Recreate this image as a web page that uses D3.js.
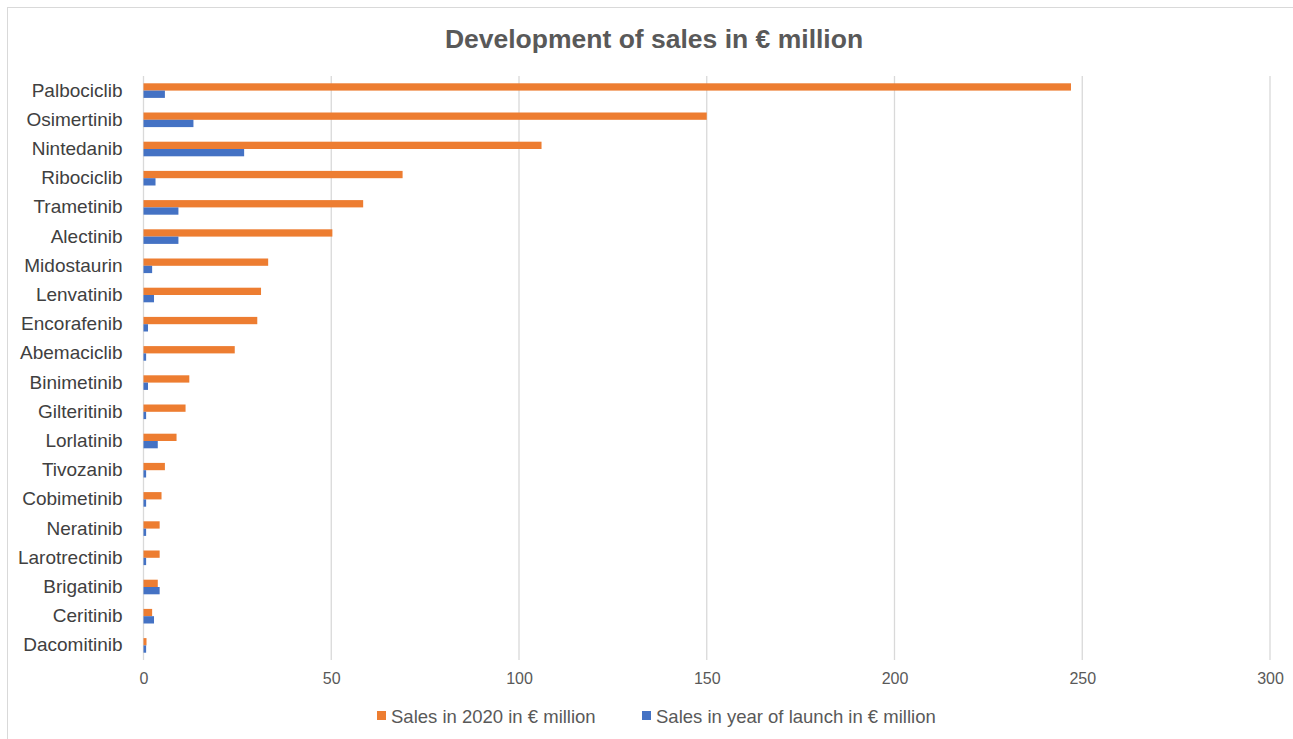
<!DOCTYPE html>
<html>
<head>
<meta charset="utf-8">
<script src="https://cdn.jsdelivr.net/npm/d3@7"></script>
<style>
  html, body { margin: 0; padding: 0; background: #fff; }
  svg { display: block; font-family: "Liberation Sans", Arial, sans-serif; }
</style>
</head>
<body>
<svg id="chart" width="1293" height="739"></svg>
<script>
// Drug names, top to bottom
const drugs = ["Palbociclib", "Osimertinib", "Nintedanib", "Ribociclib", "Trametinib",
  "Alectinib", "Midostaurin", "Lenvatinib", "Encorafenib", "Abemaciclib",
  "Binimetinib", "Gilteritinib", "Lorlatinib", "Tivozanib", "Cobimetinib",
  "Neratinib", "Larotrectinib", "Brigatinib", "Ceritinib", "Dacomitinib"];

// Sales in 2020 (€ million)
const sales2020 = [247, 150, 106, 69, 58.5, 50.3, 33.2, 31.3, 30.3, 24.3,
  12.2, 11.2, 8.8, 5.7, 4.8, 4.3, 4.3, 3.8, 2.3, 0.8];

// Sales in the year of launch (€ million)
const salesLaunch = [5.7, 13.3, 26.8, 3.2, 9.3, 9.3, 2.3, 2.8, 1.2, 0.7,
  1.2, 0.7, 3.8, 0.7, 0.7, 0.7, 0.7, 4.3, 2.8, 0.7];

const xTicks = [0, 50, 100, 150, 200, 250, 300];

const seriesNames = ["Sales in 2020 in € million", "Sales in year of launch in € million"];
const seriesColors = ["#ED7D31", "#4472C4"];

const svg = d3.select("#chart");
const W = 1293, H = 739;
const plot = { left: 143.5, right: 1270, top: 76, bottom: 660 };

// chart frame
svg.append("rect")
  .attr("x", 7.5).attr("y", 7.5)
  .attr("width", W + 10).attr("height", H + 10)
  .attr("fill", "#fff").attr("stroke", "#d9d9d9").attr("stroke-width", 1);

const x = d3.scaleLinear().domain([0, 300]).range([plot.left, plot.right]);
const y = d3.scaleBand().domain(drugs).range([plot.top, plot.bottom]).paddingInner(0.5).paddingOuter(0.25);
const ySub = d3.scaleBand().domain([0, 1]).range([0, y.bandwidth()]);

// title
svg.append("text")
  .attr("x", 654).attr("y", 48)
  .attr("text-anchor", "middle")
  .attr("font-size", 26.5).attr("font-weight", "bold")
  .attr("fill", "#595959")
  .text("Development of sales in € million");

// vertical gridlines
svg.append("g")
  .selectAll("line")
  .data(xTicks)
  .join("line")
  .attr("x1", d => x(d)).attr("x2", d => x(d))
  .attr("y1", plot.top).attr("y2", plot.bottom)
  .attr("stroke", "#d9d9d9").attr("stroke-width", 1.3);

// x axis tick labels
const xAxis = d3.axisBottom(x).tickValues(xTicks).tickSize(0).tickPadding(0);
const gx = svg.append("g").attr("transform", `translate(0,${plot.bottom})`).call(xAxis);
gx.select(".domain").remove();
gx.selectAll("text")
  .attr("dy", null).attr("y", 24)
  .attr("font-size", 16).attr("font-family", "Liberation Sans, Arial, sans-serif")
  .attr("fill", "#595959");

// y axis category labels
const yAxis = d3.axisLeft(y).tickSize(0).tickPadding(21);
const gy = svg.append("g").attr("transform", `translate(${plot.left},0)`).call(yAxis);
gy.select(".domain").remove();
gy.selectAll("text")
  .attr("font-size", 19).attr("font-family", "Liberation Sans, Arial, sans-serif")
  .attr("fill", "#404040");

// bars
const rows = drugs.map((d, i) => ({ name: d, vals: [sales2020[i], salesLaunch[i]] }));
const groups = svg.append("g").selectAll("g")
  .data(rows)
  .join("g")
  .attr("transform", d => `translate(0,${y(d.name)})`);

groups.selectAll("rect")
  .data(d => d.vals.map((v, k) => ({ v, k })))
  .join("rect")
  .attr("x", x(0))
  .attr("y", d => ySub(d.k))
  .attr("width", d => x(d.v) - x(0))
  .attr("height", ySub.bandwidth())
  .attr("fill", d => seriesColors[d.k]);

// legend
const legendItems = [
  { name: seriesNames[0], color: seriesColors[0], x: 377 },
  { name: seriesNames[1], color: seriesColors[1], x: 642 }
];
const lg = svg.append("g").selectAll("g")
  .data(legendItems)
  .join("g")
  .attr("transform", d => `translate(${d.x},716)`);
lg.append("rect")
  .attr("x", 0).attr("y", -5)
  .attr("width", 9).attr("height", 9)
  .attr("fill", d => d.color);
lg.append("text")
  .attr("x", 14).attr("y", 6.5)
  .attr("font-size", 18.5)
  .attr("fill", "#595959")
  .text(d => d.name);
</script>
</body>
</html>
